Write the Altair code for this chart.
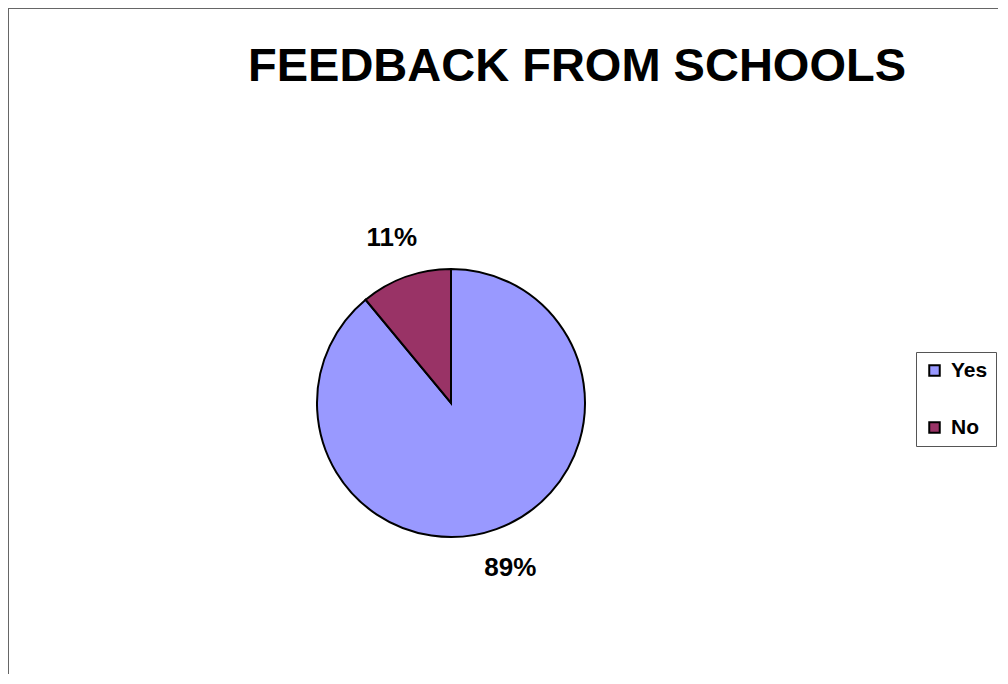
import altair as alt
import pandas as pd

categories = ["Yes", "No"]
values = [89, 11]
colors = ["#9999FF", "#993366"]
title_text = "FEEDBACK FROM SCHOOLS"

W, H = 990, 666
CX, CY = 443, 395
FONT = "Liberation Sans"

df = pd.DataFrame({"category": categories, "value": values, "idx": list(range(len(categories)))})

base = alt.Chart(df).encode(
    theta=alt.Theta("value:Q", stack=True),
    order=alt.Order("idx:Q"),
)

pie = base.mark_arc(radius=134, stroke="black", strokeWidth=2).encode(
    x=alt.value(CX),
    y=alt.value(CY),
    color=alt.Color(
        "category:N",
        scale=alt.Scale(domain=categories, range=colors),
        sort=categories,
        legend=alt.Legend(
            title=None,
            orient="none",
            legendX=908,
            legendY=344,
            symbolType="square",
            symbolSize=110,
            symbolStrokeColor="black",
            symbolStrokeWidth=2,
            labelFont=FONT,
            labelFontSize=21,
            labelFontWeight="bold",
            labelColor="black",
            labelOffset=6,
            rowPadding=35,
            padding=8,
            strokeColor="#555555",
        ),
    ),
)

labels = base.transform_calculate(
    label="datum.value + '%'"
).mark_text(
    radius=175, font=FONT, fontSize=26, fontWeight="bold", color="black",
    baseline="middle", align="center",
).encode(
    x=alt.value(CX),
    y=alt.value(CY),
    text="label:N",
)

title = alt.Chart(pd.DataFrame({"t": [title_text]})).mark_text(
    font=FONT, fontSize=47, fontWeight="bold", color="black",
    align="center", baseline="alphabetic",
).encode(
    x=alt.value(569),
    y=alt.value(73),
    text="t:N",
)

frame_left = alt.Chart(pd.DataFrame({"a": [0]})).mark_rule(color="#666666", strokeWidth=2).encode(
    x=alt.value(0), y=alt.value(0), y2=alt.value(H)
)
frame_top = alt.Chart(pd.DataFrame({"a": [0]})).mark_rule(color="#666666", strokeWidth=2).encode(
    x=alt.value(0), x2=alt.value(W), y=alt.value(0)
)

chart = alt.layer(frame_left, frame_top, pie, labels, title).properties(
    width=W, height=H, padding=0,
    autosize=alt.AutoSizeParams(type="none"),
).configure_view(stroke=None).configure(background="white")

chart.save("out.html", embed_options={"renderer": "svg", "actions": False})
